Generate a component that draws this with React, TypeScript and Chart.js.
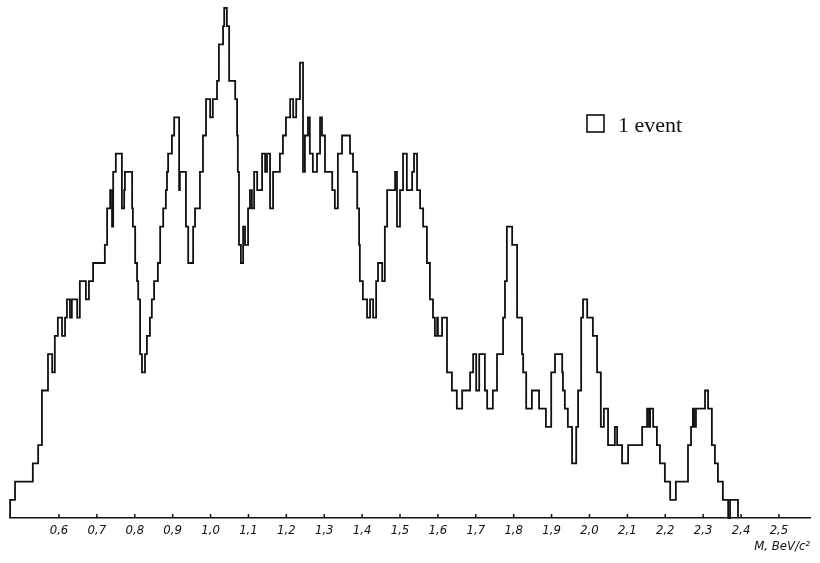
import React, { useEffect, useRef } from "react";
import { Chart, registerables } from "chart.js";

Chart.register(...registerables);

// Left edges of histogram steps (M, BeV/c^2) and the number of events stacked on each step
const massEdges = [
  0.471, 0.471, 0.484, 0.531, 0.545, 0.555, 0.571, 0.582, 0.589, 0.597,
  0.608, 0.616, 0.621, 0.629, 0.634, 0.648, 0.655, 0.671, 0.679, 0.690,
  0.721, 0.727, 0.735, 0.740, 0.743, 0.750, 0.766, 0.772, 0.774, 0.793,
  0.795, 0.801, 0.806, 0.809, 0.814, 0.819, 0.827, 0.832, 0.840, 0.845,
  0.851, 0.861, 0.867, 0.875, 0.882, 0.885, 0.888, 0.898, 0.904, 0.917,
  0.919, 0.935, 0.941, 0.954, 0.959, 0.972, 0.980, 0.988, 0.999, 1.006,
  1.017, 1.022, 1.033, 1.036, 1.043, 1.049, 1.065, 1.070, 1.072, 1.075,
  1.080, 1.086, 1.091, 1.099, 1.104, 1.109, 1.115, 1.123, 1.136, 1.144,
  1.149, 1.157, 1.165, 1.183, 1.191, 1.199, 1.210, 1.218, 1.226, 1.236,
  1.244, 1.249, 1.257, 1.262, 1.270, 1.281, 1.289, 1.294, 1.302, 1.321,
  1.328, 1.336, 1.347, 1.368, 1.376, 1.387, 1.392, 1.394, 1.402, 1.413,
  1.421, 1.429, 1.437, 1.442, 1.453, 1.460, 1.466, 1.487, 1.492, 1.500,
  1.508, 1.518, 1.532, 1.537, 1.545, 1.553, 1.561, 1.571, 1.579, 1.587,
  1.592, 1.598, 1.600, 1.611, 1.624, 1.637, 1.650, 1.664, 1.685, 1.693,
  1.701, 1.709, 1.724, 1.730, 1.745, 1.756, 1.772, 1.777, 1.782, 1.796,
  1.809, 1.822, 1.825, 1.833, 1.848, 1.867, 1.885, 1.899, 1.909, 1.928,
  1.930, 1.935, 1.943, 1.954, 1.965, 1.970, 1.978, 1.983, 1.994, 2.009,
  2.020, 2.030, 2.038, 2.049, 2.067, 2.073, 2.086, 2.102, 2.139, 2.152,
  2.157, 2.160, 2.168, 2.178, 2.186, 2.199, 2.213, 2.228, 2.260, 2.268,
  2.273, 2.276, 2.281, 2.305, 2.313, 2.323, 2.331, 2.339, 2.352, 2.366,
  2.371, 2.392,
];

const eventCounts = [
  0, 1, 2, 3, 4, 7, 9, 8, 10, 11,
  10, 11, 12, 11, 12, 11, 13, 12, 13, 14,
  15, 17, 18, 16, 19, 20, 17, 18, 19, 17,
  16, 14, 13, 12, 9, 8, 9, 10, 11, 12,
  13, 14, 16, 17, 18, 19, 20, 21, 22, 18,
  19, 16, 14, 16, 17, 19, 21, 23, 22, 23,
  24, 26, 27, 28, 27, 24, 23, 21, 19, 15,
  14, 16, 15, 17, 18, 17, 19, 18, 20, 19,
  20, 17, 19, 20, 21, 22, 23, 22, 23, 25,
  19, 21, 22, 20, 19, 20, 22, 21, 19, 18,
  17, 20, 21, 20, 19, 17, 15, 13, 12, 11,
  12, 11, 13, 14, 13, 16, 18, 19, 16, 18,
  20, 18, 19, 20, 18, 17, 16, 14, 12, 11,
  10, 11, 10, 11, 8, 7, 6, 7, 8, 9,
  7, 9, 7, 6, 7, 9, 11, 13, 16, 15,
  11, 9, 8, 6, 7, 6, 5, 8, 9, 8,
  7, 6, 5, 3, 5, 7, 11, 12, 11, 10,
  8, 5, 6, 4, 5, 4, 3, 4, 5, 6,
  5, 6, 5, 4, 3, 2, 1, 2, 4, 5,
  6, 5, 6, 7, 6, 4, 3, 2, 1, 0,
  1, 0,
];

const tickValues = [0.6, 0.7, 0.8, 0.9, 1.0, 1.1, 1.2, 1.3, 1.4, 1.5, 1.6, 1.7, 1.8, 1.9, 2.0, 2.1, 2.2, 2.3, 2.4, 2.5];
const tickLabels = ["0,6", "0,7", "0,8", "0,9", "1,0", "1,1", "1,2", "1,3", "1,4", "1,5", "1,6", "1,7", "1,8", "1,9", "2,0", "2,1", "2,2", "2,3", "2,4", "2,5"];
const axisTitle = "M, BeV/c\u00B2";
const legendLabel = "1 event";

const X_MIN = 0.4707;
const X_MAX = 2.582;
const Y_MAX = 28;

const labelFont = "'DejaVu Sans Condensed', 'Liberation Sans Narrow', 'Liberation Sans', sans-serif";

const paperPlugin = {
  id: "paper",
  beforeDraw(chart: any) {
    const ctx = chart.ctx;
    ctx.save();
    ctx.fillStyle = "#ffffff";
    ctx.fillRect(0, 0, chart.width, chart.height);
    ctx.restore();
  },
  afterDraw(chart: any) {
    const ctx = chart.ctx;
    const xs = chart.scales.x;
    const area = chart.chartArea;
    ctx.save();
    // small upward tick marks on the axis
    ctx.strokeStyle = "#111";
    ctx.lineWidth = 1.5;
    xs.ticks.forEach((t: any) => {
      const px = xs.getPixelForValue(t.value);
      ctx.beginPath();
      ctx.moveTo(px, area.bottom);
      ctx.lineTo(px, area.bottom - 4);
      ctx.stroke();
    });
    // "1 event" key box
    const bx = area.left + 577;
    const by = area.top + 107;
    ctx.lineWidth = 1.6;
    ctx.strokeRect(bx, by, 17, 17);
    ctx.fillStyle = "#111";
    ctx.font = "22px 'Liberation Serif', 'DejaVu Serif', serif";
    ctx.textAlign = "left";
    ctx.textBaseline = "alphabetic";
    ctx.fillText(legendLabel, bx + 31, by + 17);
    ctx.restore();
  },
};

export default function App() {
  const canvasRef = useRef<HTMLCanvasElement | null>(null);

  useEffect(() => {
    document.body.style.margin = "0";
    const canvas = canvasRef.current;
    if (!canvas) return;
    const points = massEdges.map((m, i) => ({ x: m, y: eventCounts[i] }));
    const chart = new Chart(canvas, {
      type: "line",
      data: {
        datasets: [
          {
            data: points,
            stepped: "before",
            borderColor: "#111111",
            borderWidth: 1.8,
            pointRadius: 0,
            fill: false,
            clip: false,
          } as any,
        ],
      },
      options: {
        animation: false,
        responsive: false,
        devicePixelRatio: 1,
        layout: { padding: { left: 10, right: 10, top: 8, bottom: 0 } },
        plugins: {
          legend: { display: false },
          tooltip: { enabled: false },
        },
        scales: {
          x: {
            type: "linear",
            min: X_MIN,
            max: X_MAX,
            afterBuildTicks: (scale: any) => {
              scale.ticks = tickValues.map((v) => ({ value: v }));
            },
            afterFit: (scale: any) => {
              scale.height = 45;
            },
            grid: { display: false, drawTicks: false },
            border: { display: true, color: "#111111", width: 1.6 },
            ticks: {
              padding: 5,
              color: "#111111",
              maxRotation: 0,
              autoSkip: false,
              font: { family: labelFont, size: 13, style: "italic" },
              callback: (value: any, index: number) => tickLabels[index],
            },
            title: {
              display: true,
              text: axisTitle,
              align: "end",
              color: "#111111",
              font: { family: labelFont, size: 13, style: "italic" },
              padding: { top: 0, bottom: 9 },
            },
          },
          y: {
            type: "linear",
            display: false,
            min: 0,
            max: Y_MAX,
          },
        },
      } as any,
      plugins: [paperPlugin],
    });
    return () => chart.destroy();
  }, []);

  return (
    <div style={{ position: "absolute", left: 0, top: 0, width: 820, height: 563 }}>
      <canvas ref={canvasRef} width={820} height={563} style={{ width: 820, height: 563 }} />
    </div>
  );
}
